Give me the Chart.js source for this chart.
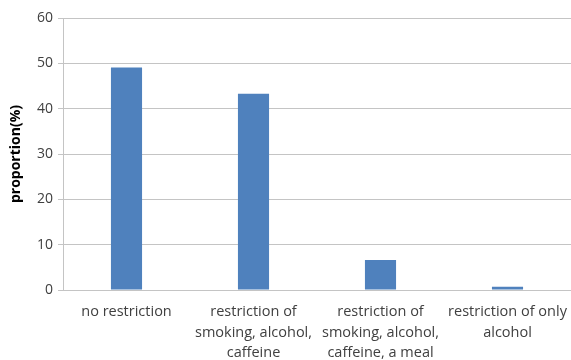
<!DOCTYPE html>
<html>
<head>
<meta charset="utf-8">
<script src="https://cdn.jsdelivr.net/npm/chart.js@4"></script>
<style>
  body { margin: 0; background: #fff; }
  #wrap { width: 571px; height: 360px; position: relative; }
</style>
</head>
<body>
<div id="wrap"><canvas id="restrictionChart"></canvas></div>
<script>
  // Restriction groups and their share of respondents
  const categories = [
    'no restriction',
    ['restriction of', 'smoking, alcohol,', 'caffeine'],
    ['restriction of', 'smoking, alcohol,', 'caffeine, a meal'],
    ['restriction of only', 'alcohol']
  ];
  const proportions = [49.1, 43.3, 6.6, 0.7];
  const yTicks = [0, 10, 20, 30, 40, 50, 60];

  const gridColor = '#c4c4c4';
  const textColor = '#404040';

  const restrictionChartElement = document.getElementById('restrictionChart');
  if (restrictionChartElement) {
    const bar = restrictionChartElement.getContext('2d');
    new Chart(bar, {
      type: 'bar',
      data: {
        labels: categories,
        datasets: [{
          label: 'proportion',
          data: proportions,
          backgroundColor: '#4f81bd',
          borderWidth: 0,
          categoryPercentage: 1,
          barPercentage: 0.245
        }]
      },
      options: {
        responsive: true,
        maintainAspectRatio: false,
        animation: false,
        layout: {
          padding: { top: 18, right: 0, left: 8, bottom: 0 }
        },
        plugins: {
          legend: { display: false },
          tooltip: { enabled: false }
        },
        scales: {
          x: {
            grid: { display: false, drawTicks: false },
            border: { display: true, color: gridColor, width: 1 },
            ticks: {
              color: textColor,
              font: { family: 'Open Sans', size: 14.5, lineHeight: 1.4 },
              padding: 12,
              maxRotation: 0,
              autoSkip: false
            },
            afterFit: function (scale) {
              scale.height = 70;
              // let the last label run to the canvas edge
              scale.paddingLeft = 0;
              scale.paddingRight = 0;
            }
          },
          y: {
            min: 0,
            max: 60,
            afterBuildTicks: function (scale) {
              scale.ticks = yTicks.map(function (v) { return { value: v }; });
            },
            grid: { color: gridColor, tickLength: 5 },
            border: { display: true, color: gridColor },
            ticks: {
              color: textColor,
              font: { family: 'Open Sans', size: 14 },
              padding: 5
            },
            title: {
              display: true,
              text: 'proportion(%)',
              color: '#000',
              font: { family: 'Open Sans', size: 14, weight: 'bold' },
              padding: { top: 0, bottom: 2 }
            },
            afterFit: function (scale) { scale.width = 55; }
          }
        }
      }
    });
  }
</script>
</body>
</html>
